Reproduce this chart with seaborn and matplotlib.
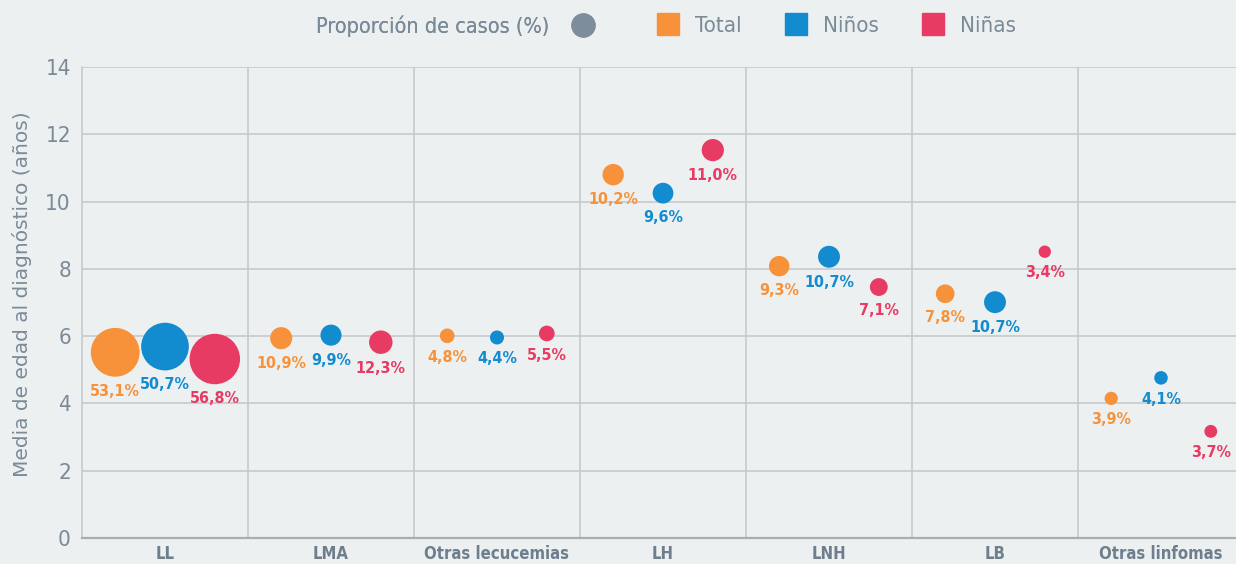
import matplotlib.pyplot as plt
from matplotlib.lines import Line2D
import numpy as np
import pandas as pd
import seaborn as sns

categorias = ["LL", "LMA", "Otras lecucemias", "LH", "LNH", "LB", "Otras linfomas"]
grupos = ["Total", "Niños", "Niñas"]

# media de edad al diagnóstico (años)
edad_total = [5.52, 5.94, 6.01, 10.80, 8.08, 7.26, 4.15]
edad_ninos = [5.69, 6.03, 5.96, 10.25, 8.36, 7.01, 4.76]
edad_ninas = [5.32, 5.82, 6.08, 11.53, 7.46, 8.51, 3.17]

# proporción de casos (%)
pct_total = [53.1, 10.9, 4.8, 10.2, 9.3, 7.8, 3.9]
pct_ninos = [50.7, 9.9, 4.4, 9.6, 10.7, 10.7, 4.1]
pct_ninas = [56.8, 12.3, 5.5, 11.0, 7.1, 3.4, 3.7]

colores = {"Total": "#f7923a", "Niños": "#138bcf", "Niñas": "#e83b64"}
BG = "#ecf0f1"
GRID = "#c3c7cb"
TEXTO = "#7b8a98"

sns.set_theme(style="whitegrid")
plt.rcParams["font.family"] = ["DejaVu Sans"]
plt.rcParams["font.stretch"] = "condensed"

edades = {"Total": edad_total, "Niños": edad_ninos, "Niñas": edad_ninas}
pcts = {"Total": pct_total, "Niños": pct_ninos, "Niñas": pct_ninas}
desplaz = {"Total": -0.3, "Niños": 0.0, "Niñas": 0.3}

filas = []
for g in grupos:
    for i, c in enumerate(categorias):
        filas.append({"categoria": c, "grupo": g, "x": i + desplaz[g],
                      "edad": edades[g][i], "pct": pcts[g][i]})
df = pd.DataFrame(filas)

S_MAX = 1320
pct_max = df["pct"].max()

fig = plt.figure(figsize=(12.36, 5.64), dpi=100)
fig.patch.set_facecolor(BG)
ax = fig.add_axes([82 / 1236, 26 / 564, 1162 / 1236, 471 / 564])
ax.set_facecolor(BG)

sns.scatterplot(data=df, x="x", y="edad", hue="grupo", palette=colores,
                size="pct", sizes=(0, S_MAX), size_norm=(0, pct_max),
                linewidth=0, alpha=1, legend=False, ax=ax, zorder=3)

for _, r in df.iterrows():
    radio = np.sqrt(S_MAX * r["pct"] / pct_max) / 2
    txt = f"{r['pct']:.1f}".replace(".", ",") + "%"
    ax.annotate(txt, (r["x"], r["edad"]), xytext=(0, -(radio + 5)),
                textcoords="offset points", ha="center", va="top",
                color=colores[r["grupo"]], fontsize=11.5, fontweight="bold")

ax.set_xlim(-0.5, 6.5)
ax.set_ylim(0, 14)
ax.set_yticks(range(0, 15, 2))
ax.set_xticks(range(len(categorias)))
ax.set_xticklabels(categorias, fontsize=12, fontweight="bold", color="#6f7e8c")
ax.set_xticks(np.arange(0.5, 6.5, 1), minor=True)
ax.grid(False)
ax.yaxis.grid(True, color=GRID, lw=1.1)
ax.xaxis.grid(True, which="minor", color=GRID, lw=1.1)
ax.tick_params(axis="both", which="both", length=0)
ax.tick_params(axis="y", labelsize=16, labelcolor=TEXTO, pad=8)
ax.tick_params(axis="x", pad=5)
ax.set_xlabel("")
ax.set_ylabel("")
for s in ["top", "right"]:
    ax.spines[s].set_visible(False)
ax.spines["left"].set_color(GRID)
ax.spines["left"].set_linewidth(1.1)
ax.spines["bottom"].set_color("#a9aeb3")
ax.spines["bottom"].set_linewidth(1.6)

fig.text(0.018, 0.479, "Media de edad al diagnóstico (años)", rotation=90,
         ha="center", va="center", fontsize=14.5, fontstretch="normal",
         color=TEXTO)

# leyenda
h_circ = Line2D([], [], marker="o", linestyle="", markersize=16.5,
                color="#7d8d9b")
leg1 = fig.legend(handles=[h_circ], labels=["Proporción de casos (%)"],
                  loc="center left", bbox_to_anchor=(316 / 1236, 0.954),
                  markerfirst=False, frameon=False, fontsize=15.5,
                  handletextpad=0.95, handlelength=1.2, borderpad=0,
                  borderaxespad=0, labelcolor=TEXTO)
h_cuad = [Line2D([], [], marker="s", linestyle="", markersize=16.5,
                 color=colores[g]) for g in grupos]
leg2 = fig.legend(handles=h_cuad, labels=grupos, ncol=3,
                  loc="center left", bbox_to_anchor=(655 / 1236, 0.954),
                  frameon=False, fontsize=16, handletextpad=0.6,
                  handlelength=1.2, columnspacing=1.85, borderpad=0,
                  borderaxespad=0, labelcolor=TEXTO)
fig.add_artist(leg1)

fig.savefig("out.png", dpi=100, facecolor=BG)
